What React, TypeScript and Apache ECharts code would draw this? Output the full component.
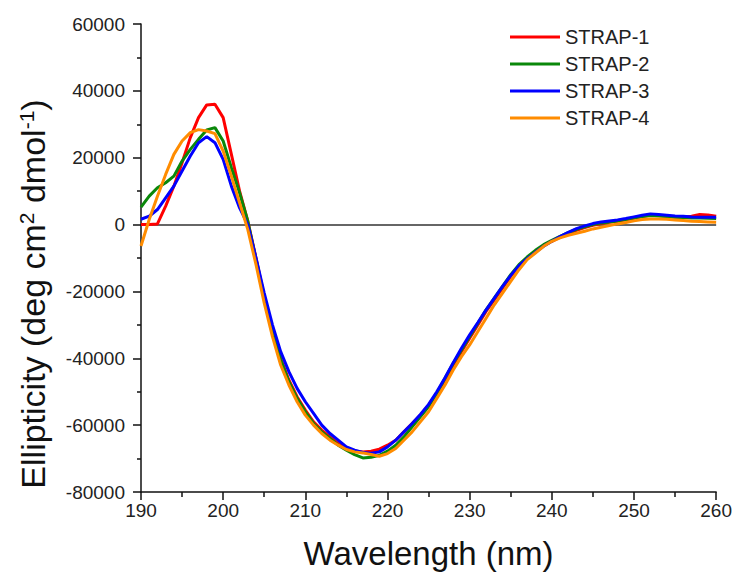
import React, { useEffect, useRef } from "react";
import * as echarts from "echarts";

const wavelengths = [
  190, 191, 192, 193, 194, 195, 196, 197, 198, 199,
  200, 201, 202, 203, 204, 205, 206, 207, 208, 209,
  210, 211, 212, 213, 214, 215, 216, 217, 218, 219,
  220, 221, 222, 223, 224, 225, 226, 227, 228, 229,
  230, 231, 232, 233, 234, 235, 236, 237, 238, 239,
  240, 241, 242, 243, 244, 245, 246, 247, 248, 249,
  250, 251, 252, 253, 254, 255, 256, 257, 258, 259, 260,
];

const strap1 = [
  0, 0, 200, 5500, 11500, 18500, 26000, 32000, 35800, 36000,
  32000, 21000, 10000, 1000, -10000, -21500, -31500, -40000, -46500, -51500,
  -55500, -59000, -61500, -63500, -65500, -67000, -67700, -68000, -67800, -67200,
  -66000, -64500, -62000, -59500, -57000, -54000, -50500, -46500, -42000, -38000,
  -34000, -30000, -26000, -22500, -19000, -15500, -12500, -10000, -8000, -6300,
  -5000, -3800, -2700, -1700, -900, -200, 300, 700, 1000, 1400,
  1900, 2400, 2800, 2700, 2500, 2300, 2300, 2500, 3000, 2900, 2500,
];

const strap2 = [
  5200, 8500, 11000, 12500, 14500, 19000, 22500, 25500, 28300, 29000,
  25000, 17000, 9500, 1000, -10500, -22000, -32000, -40500, -47000, -52000,
  -56000, -59500, -62000, -64000, -66000, -67500, -68800, -69800, -69600, -69000,
  -67800, -66000, -63500, -60500, -57500, -54500, -50500, -46000, -41500, -37500,
  -33500, -29500, -25500, -22000, -18500, -15000, -12000, -9700, -7700, -6000,
  -4700, -3500, -2400, -1400, -700, 0, 500, 800, 1100, 1500,
  2000, 2400, 2700, 2600, 2400, 2200, 2100, 2000, 2000, 1900, 1800,
];

const strap3 = [
  1600, 2500, 4500, 8000, 11500, 16000, 20500, 24500, 26300, 24500,
  19500, 11500, 5000, 0, -10000, -20500, -30000, -38000, -44000, -49000,
  -53000, -56500, -60000, -62500, -64500, -66500, -67500, -68200, -68400, -68000,
  -66500, -64500, -62000, -59500, -56800, -53800, -50000, -45800, -41300, -37000,
  -33000, -29300, -25500, -22000, -18500, -15200, -12300, -10200, -8300, -6500,
  -5000, -3600, -2300, -1200, -400, 300, 800, 1100, 1400, 1800,
  2300, 2800, 3200, 3000, 2800, 2600, 2500, 2300, 2200, 2200, 2200,
];

const strap4 = [
  -6400, 1500, 8500, 15000, 21000, 25000, 27500, 28400, 28000, 27200,
  22000, 14500, 6500, -1500, -12000, -23500, -33500, -42000, -48000, -53000,
  -57000, -60000, -62500, -64500, -66000, -67300, -68000, -68300, -68800, -69300,
  -68500, -67000, -64500, -62000, -59000, -56000, -52000, -48000, -43500, -39500,
  -36000, -32000, -28000, -24000, -20500, -17000, -13500, -10500, -8500, -6500,
  -5000, -4000, -3200, -2600, -2000, -1300, -800, -300, 200, 600,
  1100, 1500, 1700, 1700, 1600, 1400, 1200, 1000, 900, 800, 700,
];

const seriesNames = ["STRAP-1", "STRAP-2", "STRAP-3", "STRAP-4"];
const seriesColors = ["#ff0000", "#0a880a", "#0000ff", "#ff8c00"];
const seriesValues = [strap1, strap2, strap3, strap4];

const FONT = "Arial, 'Liberation Sans', sans-serif";

export default function App() {
  const ref = useRef<HTMLDivElement>(null);

  useEffect(() => {
    if (!ref.current) return;
    const chart = echarts.init(ref.current, null, { renderer: "svg" });

    const series: any[] = seriesNames.map((name, i) => ({
      name,
      type: "line",
      symbol: "none",
      smooth: false,
      data: wavelengths.map((w, j) => [w, seriesValues[i][j]]),
      lineStyle: { color: seriesColors[i], width: 3 },
      itemStyle: { color: seriesColors[i] },
      z: 3 + i,
    }));
    series[0].markLine = {
      silent: true,
      symbol: "none",
      label: { show: false },
      lineStyle: { color: "#333", width: 1.5, type: "solid" },
      data: [{ yAxis: 0 }],
      z: 1,
    };

    const tickFmt = (v: number) => String(v);

    chart.setOption({
      animation: false,
      backgroundColor: "#ffffff",
      grid: { left: 141, right: 14, top: 24, bottom: 81, containLabel: false },
      legend: {
        orient: "vertical",
        left: 505,
        top: 22,
        icon: "rect",
        itemWidth: 50,
        itemHeight: 3,
        itemGap: 7,
        textStyle: { fontFamily: FONT, fontSize: 20, color: "#222" },
        data: seriesNames,
      },
      xAxis: {
        type: "value",
        min: 190,
        max: 260,
        interval: 10,
        name: "Wavelength (nm)",
        nameLocation: "middle",
        nameGap: 45,
        nameTextStyle: { fontFamily: FONT, fontSize: 33, color: "#111" },
        axisLine: { onZero: false, lineStyle: { color: "#111", width: 1.5 } },
        axisTick: { show: true, inside: false, length: 8, lineStyle: { color: "#111", width: 1.5 } },
        minorTick: { show: true, splitNumber: 2, length: 5, lineStyle: { color: "#111", width: 1.5 } },
        splitLine: { show: false },
        axisLabel: { fontFamily: FONT, fontSize: 19, color: "#222", margin: 9, formatter: tickFmt },
      },
      yAxis: {
        type: "value",
        min: -80000,
        max: 60000,
        interval: 20000,
        name: "Ellipticity (deg cm{sup|2} dmol{sup|-1})",
        nameLocation: "middle",
        nameGap: 91,
        nameRotate: 90,
        nameTextStyle: {
          fontFamily: FONT,
          fontSize: 34,
          color: "#111",
          padding: [0, 72, 0, 0],
          rich: {
            sup: { fontFamily: FONT, fontSize: 21, color: "#111", verticalAlign: "top" },
          },
        },
        axisLine: { show: true, lineStyle: { color: "#111", width: 1.5 } },
        axisTick: { show: true, inside: false, length: 8, lineStyle: { color: "#111", width: 1.5 } },
        minorTick: { show: true, splitNumber: 2, length: 4, lineStyle: { color: "#111", width: 1.5 } },
        splitLine: { show: false },
        axisLabel: { fontFamily: FONT, fontSize: 19, color: "#222", margin: 16, formatter: tickFmt },
      },
      series,
    });

    return () => chart.dispose();
  }, []);

  return <div ref={ref} style={{ width: 735, height: 575, position: "absolute", left: 0, top: 0 }} />;
}
